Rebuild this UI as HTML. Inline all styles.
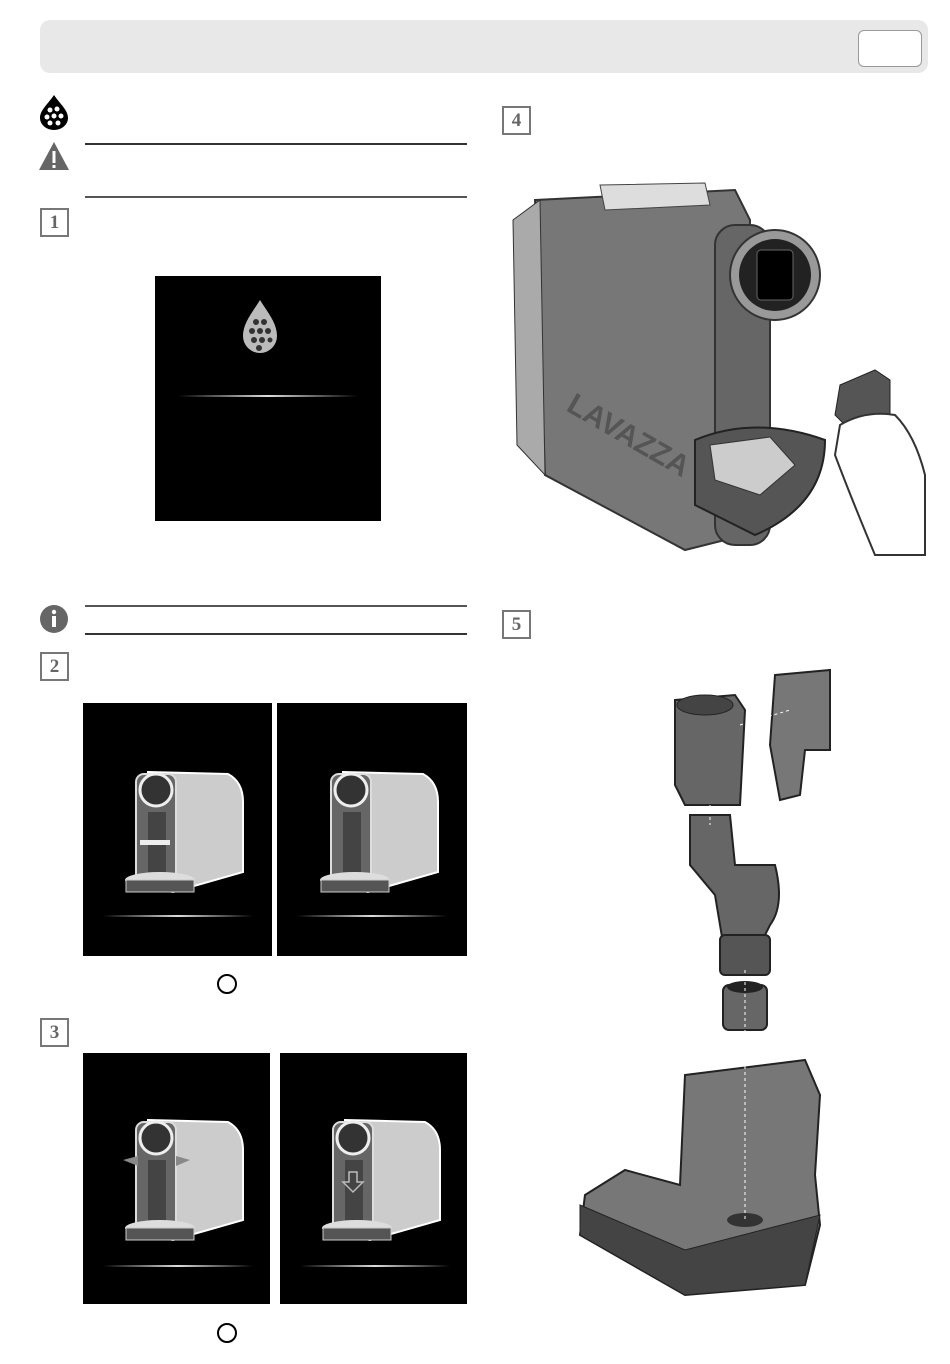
<!DOCTYPE html>
<html><head><meta charset="utf-8"><style>
body{margin:0;background:#fff;width:950px;height:1364px;position:relative;font-family:"Liberation Sans",sans-serif;overflow:hidden}
.a{position:absolute}
.num{position:absolute;width:25px;height:25px;border:2px solid #777;color:#666;font-weight:bold;font-size:19px;text-align:center;line-height:25px;font-family:"Liberation Serif",serif}
.line{position:absolute;height:2px;background:#333}
.panel{position:absolute;background:#000}
.glow{position:absolute;height:2px;background:linear-gradient(90deg,transparent,#ddd,transparent)}
</style></head><body>
<div class="a" style="left:40px;top:20px;width:888px;height:53px;background:#e8e8e8;border-radius:10px"></div>
<div class="a" style="left:858px;top:30px;width:62px;height:35px;background:#fff;border:1px solid #999;border-radius:6px"></div>

<svg class="a" style="left:38px;top:94px" width="34" height="36"><path d="M16 1 C 22 10 30 16 30 24 A14 12 0 0 1 2 24 C2 16 10 10 16 1Z" fill="#000"/><g fill="#fff"><circle cx="12" cy="16" r="2.5"/><circle cx="19" cy="15" r="2.5"/><circle cx="9" cy="23" r="2.5"/><circle cx="16" cy="22" r="2.5"/><circle cx="23" cy="22" r="2.5"/><circle cx="12" cy="29" r="2.5"/><circle cx="20" cy="29" r="2.5"/></g></svg>
<svg class="a" style="left:38px;top:140px" width="34" height="32"><path d="M16 2 L31 30 L1 30Z" fill="#666"/><rect x="14.5" y="11" width="3" height="12" fill="#fff"/><rect x="14.5" y="25" width="3" height="3" fill="#fff"/></svg>
<div class="line" style="left:85px;top:143px;width:382px"></div>
<div class="line" style="left:85px;top:196px;width:382px;background:#555"></div>
<div class="num" style="left:40px;top:208px">1</div>
<div class="panel" style="left:155px;top:276px;width:226px;height:245px"></div>
<svg class="a" style="left:240px;top:298px" width="40" height="60"><path d="M20 2 C 28 15 37 25 37 38 A17 17 0 0 1 3 38 C3 25 12 15 20 2Z" fill="#bbb"/><g fill="#333"><circle cx="16" cy="24" r="3"/><circle cx="24" cy="24" r="3"/><circle cx="12" cy="33" r="3"/><circle cx="20" cy="33" r="3"/><circle cx="28" cy="33" r="3"/><circle cx="14" cy="42" r="3"/><circle cx="22" cy="42" r="3"/><circle cx="30" cy="42" r="2.5"/><circle cx="19" cy="50" r="3"/></g></svg>
<div class="glow" style="left:178px;top:395px;width:180px"></div>

<svg class="a" style="left:38px;top:604px" width="32" height="30"><circle cx="16" cy="15" r="14" fill="#666"/><rect x="14" y="12" width="4" height="11" fill="#fff"/><circle cx="16" cy="8" r="2.2" fill="#fff"/></svg>
<div class="line" style="left:85px;top:605px;width:382px;background:#555"></div>
<div class="line" style="left:85px;top:633px;width:382px"></div>
<div class="num" style="left:40px;top:652px">2</div>

<div class="panel" style="left:83px;top:703px;width:189px;height:253px"></div>
<div class="panel" style="left:277px;top:703px;width:190px;height:253px"></div>
<div class="panel" style="left:83px;top:1053px;width:187px;height:251px"></div>
<div class="panel" style="left:280px;top:1053px;width:187px;height:251px"></div>
<svg width="0" height="0" style="position:absolute"><defs><g id="m"><path d="M30 10 L110 12 Q125 20 125 40 L125 110 L55 130 L30 125Z" fill="#ccc" stroke="#fff" stroke-width="2"/><rect x="18" y="12" width="40" height="110" rx="8" fill="#666" stroke="#ddd" stroke-width="2"/><circle cx="38" cy="28" r="16" fill="#333" stroke="#eee" stroke-width="3"/><rect x="30" y="50" width="18" height="60" fill="#444"/><ellipse cx="42" cy="118" rx="35" ry="8" fill="#ddd"/><rect x="8" y="118" width="68" height="12" fill="#555" stroke="#ccc"/></g></defs></svg>
<svg class="a" style="left:118px;top:762px" width="130" height="135"><use href="#m"/><rect x="22" y="78" width="30" height="5" fill="#eee"/></svg>
<svg class="a" style="left:313px;top:762px" width="130" height="135"><use href="#m"/></svg>
<svg class="a" style="left:118px;top:1110px" width="130" height="135"><use href="#m"/><path d="M5 50 L20 46 L20 56Z M72 50 L58 46 L58 56Z" fill="#888"/></svg>
<svg class="a" style="left:315px;top:1110px" width="130" height="135"><use href="#m"/><path d="M34 62 h8 v10 h6 l-10 10 l-10 -10 h6z" fill="none" stroke="#bbb" stroke-width="1.5"/></svg>
<div class="glow" style="left:103px;top:915px;width:150px"></div>
<div class="glow" style="left:297px;top:915px;width:150px"></div>
<div class="glow" style="left:103px;top:1265px;width:150px"></div>
<div class="glow" style="left:300px;top:1265px;width:150px"></div>
<div class="a" style="left:217px;top:974px;width:16px;height:16px;border:2px solid #000;border-radius:50%"></div>
<div class="num" style="left:40px;top:1018px">3</div>
<div class="a" style="left:217px;top:1323px;width:16px;height:16px;border:2px solid #000;border-radius:50%"></div>

<div class="num" style="left:502px;top:106px">4</div>
<svg class="a" style="left:505px;top:175px" width="425" height="385">
<path d="M30 25 L230 15 L245 45 L240 360 L180 375 L40 300 Z" fill="#777" stroke="#333" stroke-width="2"/>
<path d="M8 45 L35 25 L40 300 L12 270Z" fill="#aaa" stroke="#333"/>
<path d="M95 10 L200 8 L205 30 L100 35Z" fill="#ddd" stroke="#444"/>
<rect x="210" y="50" width="55" height="320" rx="20" fill="#666" stroke="#333" stroke-width="2"/>
<circle cx="270" cy="100" r="45" fill="#999" stroke="#333" stroke-width="2"/>
<circle cx="270" cy="100" r="36" fill="#222"/>
<rect x="252" y="75" width="36" height="50" rx="4" fill="#000" stroke="#666"/>
<path d="M190 265 Q 250 240 320 265 Q320 330 250 360 L190 330Z" fill="#555" stroke="#222" stroke-width="2"/>
<path d="M205 270 L265 262 L290 290 L255 320 L210 305Z" fill="#ccc" stroke="#333"/>
<text x="60" y="235" font-size="30" font-weight="bold" fill="#555" transform="rotate(30 60 235)">LAVAZZA</text>
<path d="M335 210 L370 195 L385 205 L385 245 L345 255 L330 240Z" fill="#555" stroke="#222"/>
<path d="M335 250 Q360 235 390 240 Q410 260 420 300 L420 380 L370 380 Q345 320 330 280Z" fill="#fff" stroke="#333" stroke-width="2"/>
</svg>

<div class="num" style="left:502px;top:610px">5</div>
<svg class="a" style="left:575px;top:665px" width="265" height="635">
<path d="M100 35 L160 30 L170 45 L165 140 L110 140 L100 120Z" fill="#666" stroke="#222" stroke-width="2"/>
<ellipse cx="130" cy="40" rx="28" ry="10" fill="#444" stroke="#222"/>
<path d="M200 10 L255 5 L255 85 L230 85 L225 130 L205 135 L195 80Z" fill="#777" stroke="#222" stroke-width="2"/>
<path d="M115 150 L155 150 L160 200 L200 200 Q210 240 195 260 L180 290 L150 290 L140 230 L115 200Z" fill="#666" stroke="#222" stroke-width="2"/>
<rect x="145" y="270" width="50" height="40" rx="5" fill="#555" stroke="#222" stroke-width="2"/>
<rect x="148" y="320" width="44" height="45" rx="6" fill="#666" stroke="#222" stroke-width="2"/>
<ellipse cx="170" cy="322" rx="18" ry="6" fill="#222"/>
<path d="M110 410 L230 395 L245 430 L240 510 L245 560 L230 620 L110 630 L5 570 L10 530 L50 505 L105 520Z" fill="#777" stroke="#222" stroke-width="2"/>
<path d="M5 540 L110 585 L245 550 L230 620 L110 630 L5 570Z" fill="#444" stroke="#222"/>
<ellipse cx="170" cy="555" rx="18" ry="7" fill="#333"/>
<line x1="135" y1="140" x2="135" y2="160" stroke="#fff" stroke-dasharray="3 3"/>
<line x1="170" y1="305" x2="170" y2="555" stroke="#fff" stroke-dasharray="3 3"/>
<line x1="165" y1="60" x2="215" y2="45" stroke="#fff" stroke-dasharray="3 3"/>
</svg>
</body></html>
